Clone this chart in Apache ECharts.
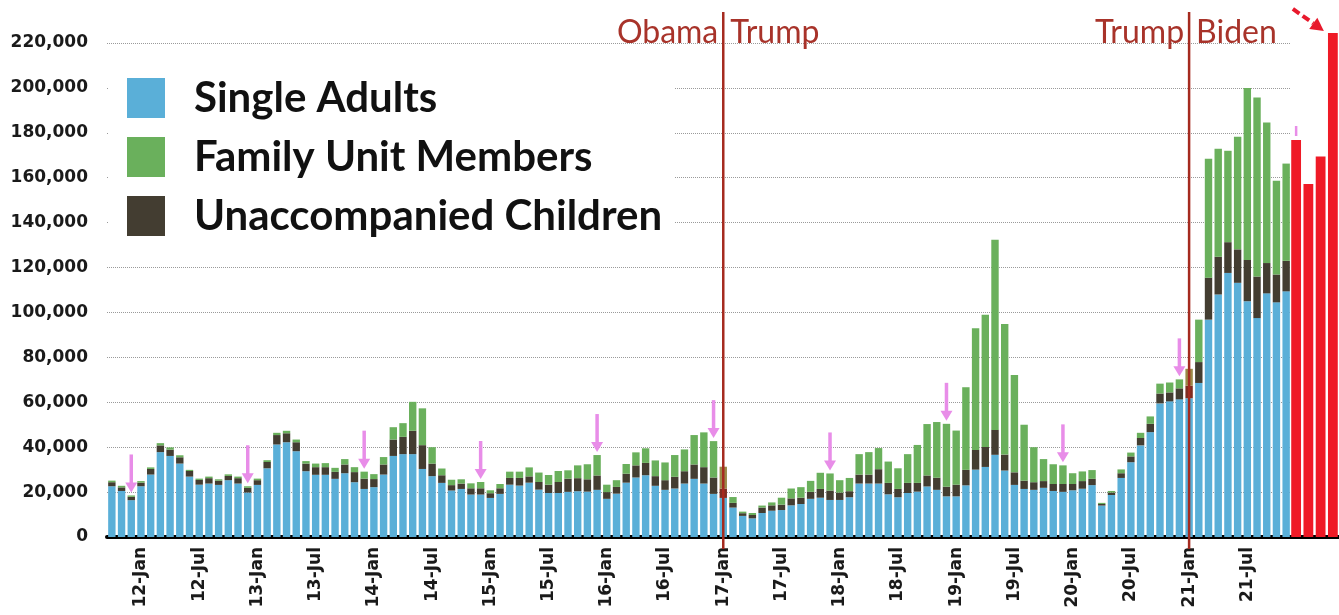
<!DOCTYPE html>
<html>
<head>
<meta charset="utf-8">
<script src="https://cdn.jsdelivr.net/npm/echarts@6/dist/echarts.min.js"></script>
<style>
html,body{margin:0;padding:0;background:#fff;}
#c{width:1339px;height:615px;}
</style>
</head>
<body>
<div id="c"></div>
<script>
// Monthly categories, Oct 2011 – Nov 2021 (stacked bars)
const categories = [
 '11-Oct','11-Nov','11-Dec',
 '12-Jan','12-Feb','12-Mar','12-Apr','12-May','12-Jun','12-Jul','12-Aug','12-Sep','12-Oct','12-Nov','12-Dec',
 '13-Jan','13-Feb','13-Mar','13-Apr','13-May','13-Jun','13-Jul','13-Aug','13-Sep','13-Oct','13-Nov','13-Dec',
 '14-Jan','14-Feb','14-Mar','14-Apr','14-May','14-Jun','14-Jul','14-Aug','14-Sep','14-Oct','14-Nov','14-Dec',
 '15-Jan','15-Feb','15-Mar','15-Apr','15-May','15-Jun','15-Jul','15-Aug','15-Sep','15-Oct','15-Nov','15-Dec',
 '16-Jan','16-Feb','16-Mar','16-Apr','16-May','16-Jun','16-Jul','16-Aug','16-Sep','16-Oct','16-Nov','16-Dec',
 '17-Jan','17-Feb','17-Mar','17-Apr','17-May','17-Jun','17-Jul','17-Aug','17-Sep','17-Oct','17-Nov','17-Dec',
 '18-Jan','18-Feb','18-Mar','18-Apr','18-May','18-Jun','18-Jul','18-Aug','18-Sep','18-Oct','18-Nov','18-Dec',
 '19-Jan','19-Feb','19-Mar','19-Apr','19-May','19-Jun','19-Jul','19-Aug','19-Sep','19-Oct','19-Nov','19-Dec',
 '20-Jan','20-Feb','20-Mar','20-Apr','20-May','20-Jun','20-Jul','20-Aug','20-Sep','20-Oct','20-Nov','20-Dec',
 '21-Jan','21-Feb','21-Mar','21-Apr','21-May','21-Jun','21-Jul','21-Aug','21-Sep','21-Oct','21-Nov'
];
const singleAdults = [
 22600,20500,16400,
 22600,27800,37800,36100,32700,26900,23300,23800,23200,25300,23800,19800,
 23200,30600,41200,42200,38200,29300,27700,27700,25900,28400,24400,21400,
 22200,27800,36100,36900,36900,30300,27100,24100,20700,21400,18900,18900,
 17400,19200,23300,22900,24200,21100,19600,19600,20100,20400,20200,21000,
 17000,19300,24200,26500,27500,22800,21000,21600,23800,25900,23800,19200,
 17400,13100,9400,8300,10700,11700,12000,14100,14700,17000,17500,16500,
 16500,17700,23800,23800,23800,19000,17700,19600,20200,22500,21000,18100,
 18100,23000,30000,31200,36600,29600,23200,21400,21000,21900,20500,20100,
 20800,21500,23100,14000,18700,26300,33300,40800,46700,59500,60400,61300,
 61800,68600,96800,108000,117600,113200,105000,97500,108500,104500,109400
];
const unaccompanied = [
 1800,1600,1500,
 1600,2500,3000,2800,2800,2500,2100,2400,1900,1900,2400,2100,
 2100,2800,4200,4000,4000,3400,3400,3400,3100,3900,4500,4600,
 3600,4500,7300,7700,10400,10600,5600,3400,2400,2400,2800,2800,
 2100,2500,3000,3400,2800,3400,3700,4900,5900,5800,5500,6400,
 3000,3000,4000,5400,5500,4300,4300,5200,5500,6400,7300,7300,
 4200,2100,1200,1500,2400,2400,2400,3100,2800,3100,3900,4200,
 3300,2700,4000,4000,6400,5100,3700,4500,3900,4900,5400,4300,
 5200,6900,8800,8900,11100,7100,5600,3700,3400,3000,3100,3500,
 2800,3400,2800,700,1100,2100,2600,3300,3700,4400,4000,4900,
 5600,9300,18700,16800,13700,14900,18400,18500,13500,12400,13600
];
const familyUnits = [
 700,700,600,
 700,700,1000,1000,900,500,600,700,600,700,700,700,
 700,800,1000,1100,1200,1100,1600,1800,1800,2400,2200,3100,
 2200,3300,5500,6100,12900,16400,7300,3000,2400,1900,2200,2800,
 1300,1900,2800,2800,4000,4200,4300,4900,3700,5700,6700,9100,
 3300,3000,4300,5800,6500,7000,7900,9700,9700,13100,15500,16200,
 9700,2600,700,900,900,1300,3100,4400,4700,4900,7200,7600,
 5500,5900,9100,10000,9400,9500,9200,12800,16900,22900,24800,28000,
 24100,36800,54200,58900,84700,58200,43400,24900,15600,9800,8800,8300,
 4800,4300,3900,500,700,1700,1700,2300,3300,4400,4400,4000,
 7500,18900,53000,48100,40700,50100,76600,79700,62600,41800,43300
];
// Later months shown as single red totals
const redCategories = ['21-Dec','22-Jan','22-Feb','22-Mar'];
const redTotals = [176800,157200,169400,224500];
// Annotations
const presidencyChanges = [
  {cat:'17-Jan', left:'Obama', right:'Trump'},
  {cat:'21-Jan', left:'Trump', right:'Biden'}
];
const arrowCats = ['11-Dec','12-Dec','13-Dec','14-Dec','15-Dec','16-Dec','17-Dec','18-Dec','19-Dec','20-Dec'];

const C_BLUE = '#5aafd8', C_GREEN = '#6ab05c', C_DARK = '#433d31', C_RED = '#ef1a26';
const C_LINE = '#a52a1f', C_TEXT = '#a8332a', C_PINK = '#e88de8';

const tintIdx = presidencyChanges.map(p => categories.indexOf(p.cat));
function tinted(arr, color) {
  return arr.map((v, i) => tintIdx.includes(i) ? {value: v, itemStyle: {color: color}} : v);
}

const chart = echarts.init(document.getElementById('c'));
const labelFont = {fontFamily: 'DejaVu Sans', fontWeight: 'bold', fontSize: 17, color: '#1a1a1a'};
chart.setOption({
  animation: false,
  grid: [
    {left: 107, right: 48, top: 43, bottom: 78},
    {left: 1290, right: 0, top: 43, bottom: 78}
  ],
  legend: {
    data: ['Single Adults', 'Family Unit Members', 'Unaccompanied Children'],
    orient: 'vertical', left: 108, top: 74,
    padding: [3, 12, 3, 19],
    itemWidth: 38, itemHeight: 40, itemGap: 17, icon: 'rect',
    backgroundColor: '#fff', selectedMode: false,
    textStyle: {fontFamily: 'Lato', fontWeight: 'bold', fontSize: 42, color: '#111', padding: [0, 0, 0, 24]}
  },
  xAxis: [
    {type: 'category', gridIndex: 0, data: categories,
     axisLine: {lineStyle: {color: '#000', width: 4}}, axisTick: {show: false},
     axisLabel: Object.assign({interval: (i, v) => /Jan|Jul/.test(v), rotate: 90, margin: 10}, labelFont)},
    {type: 'category', gridIndex: 1, data: redCategories,
     axisLine: {lineStyle: {color: '#000', width: 4}}, axisTick: {show: false}, axisLabel: {show: false}}
  ],
  yAxis: [
    {type: 'value', gridIndex: 0, min: 0, max: 220000, interval: 20000,
     axisLine: {show: false}, axisTick: {show: false},
     splitLine: {lineStyle: {type: 'dotted', color: '#9a9a9a', width: 1}},
     axisLabel: Object.assign({margin: 19, formatter: v => v.toLocaleString('en-US')}, labelFont)},
    {type: 'value', gridIndex: 1, min: 0, max: 220000, interval: 20000, show: false}
  ],
  series: [
    {name: 'Single Adults', type: 'bar', stack: 'a', barWidth: 7.4, data: singleAdults, itemStyle: {color: C_BLUE}},
    {name: 'Unaccompanied Children', type: 'bar', stack: 'a', barWidth: 7.4, data: tinted(unaccompanied, '#7e2d22'), itemStyle: {color: C_DARK}},
    {name: 'Family Unit Members', type: 'bar', stack: 'a', barWidth: 7.4, data: tinted(familyUnits, '#9a8a48'), itemStyle: {color: C_GREEN}},
    {name: 'Total', type: 'bar', xAxisIndex: 1, yAxisIndex: 1, barWidth: 9.8, clip: false, data: redTotals, itemStyle: {color: C_RED}}
  ]
});

// Annotation overlay computed from the chart's own scales
const totals = singleAdults.map((v, i) => v + unaccompanied[i] + familyUnits[i]);
const P = (i, v) => chart.convertToPixel({gridIndex: 0}, [i, v]);
const P2 = (i, v) => chart.convertToPixel({gridIndex: 1}, [i, v]);
const g = [];
presidencyChanges.forEach(p => {
  const i = categories.indexOf(p.cat);
  const [x, y0] = P(i, 0);
  const yTop = P(i, 220000)[1];
  g.push({type: 'line', z: 100, shape: {x1: x, y1: yTop - 31, x2: x, y2: y0 + 12}, style: {stroke: C_LINE, lineWidth: 2.5}});
  g.push({type: 'text', z: 100, style: {text: p.left, x: x - 5, y: yTop - 10, align: 'right', verticalAlign: 'middle', fontFamily: 'Lato', fontSize: 32, fill: C_TEXT}});
  g.push({type: 'text', z: 100, style: {text: p.right, x: x + 7, y: yTop - 10, align: 'left', verticalAlign: 'middle', fontFamily: 'Lato', fontSize: 32, fill: C_TEXT}});
});
function pinkArrow(x, tip, len) {
  g.push({type: 'line', z: 100, shape: {x1: x, y1: tip - len, x2: x, y2: tip - 8}, style: {stroke: C_PINK, lineWidth: 3.5}});
  g.push({type: 'polygon', z: 100, shape: {points: [[x - 6, tip - 10], [x + 6, tip - 10], [x, tip]]}, style: {fill: C_PINK}});
}
arrowCats.forEach(c => {
  const i = categories.indexOf(c);
  const [x, y] = P(i, totals[i]);
  pinkArrow(x, y - 3, 38);
});
{
  const [x, y] = P2(0, redTotals[0]);
  g.push({type: 'line', z: 100, shape: {x1: x, y1: y - 14, x2: x, y2: y - 4}, style: {stroke: C_PINK, lineWidth: 2.5}});
}
{
  const last = redTotals.length - 1;
  const [bx, by] = P2(last, redTotals[last]);
  const tx = bx - 9, ty = by - 2;
  const sx = tx - 31, sy = ty - 22;
  const L = Math.hypot(tx - sx, ty - sy), ux = (tx - sx) / L, uy = (ty - sy) / L;
  const hl = 13, hw = 7;
  const bxh = tx - ux * hl, byh = ty - uy * hl;
  g.push({type: 'line', z: 100, shape: {x1: sx, y1: sy, x2: bxh, y2: byh}, style: {stroke: '#e8192c', lineWidth: 4, lineDash: [8, 4]}});
  g.push({type: 'polygon', z: 100, shape: {points: [[tx, ty], [bxh - uy * hw, byh + ux * hw], [bxh + uy * hw, byh - ux * hw]]}, style: {fill: '#e8192c'}});
}
chart.setOption({graphic: g});
</script>
</body>
</html>
